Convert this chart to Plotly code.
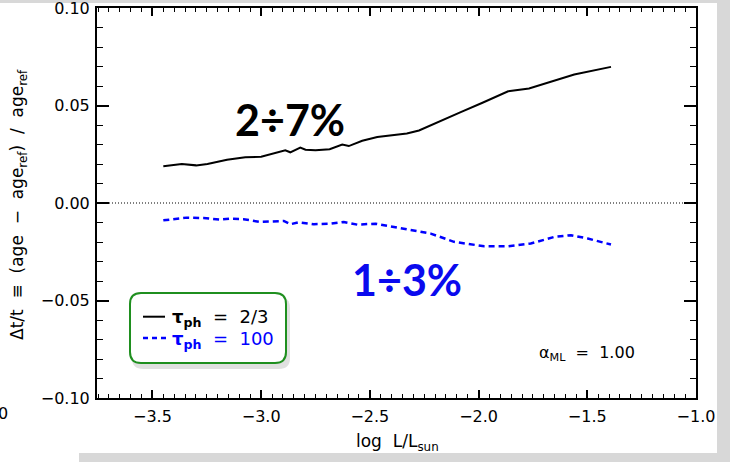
import plotly.graph_objects as go

# ---------------- data ----------------
x_solid = [-3.45, -3.365, -3.299, -3.247, -3.157, -3.073, -3.0, -2.95, -2.889, -2.866,
           -2.82, -2.796, -2.75, -2.685, -2.627, -2.597, -2.535, -2.466, -2.39, -2.33,
           -2.274, -2.174, -2.082, -1.982, -1.864, -1.768, -1.667, -1.56, -1.391]
y_solid = [0.0189, 0.0200, 0.0193, 0.0200, 0.0222, 0.0235, 0.0237, 0.0253, 0.0270, 0.0260,
           0.0284, 0.0273, 0.0270, 0.0276, 0.0300, 0.0292, 0.0319, 0.0338, 0.0350, 0.0357,
           0.0372, 0.0423, 0.0466, 0.0514, 0.0573, 0.0587, 0.0621, 0.0659, 0.0698]

x_dot = [-3.45, -3.342, -3.265, -3.188, -3.142, -3.081, -3.004, -2.896, -2.866, -2.827,
         -2.758, -2.681, -2.62, -2.558, -2.474, -2.39, -2.32, -2.22, -2.113, -1.974,
         -1.867, -1.76, -1.652, -1.575, -1.498, -1.391]
y_dot = [-0.0089, -0.0075, -0.0077, -0.0085, -0.0080, -0.0083, -0.0097, -0.0092, -0.0109, -0.0099,
         -0.0109, -0.0106, -0.0097, -0.0111, -0.0106, -0.0123, -0.0136, -0.0157, -0.0199, -0.0222,
         -0.0222, -0.0208, -0.0174, -0.0165, -0.0182, -0.0213]

series_names = ["τ<sub>ph</sub> = 2/3", "τ<sub>ph</sub> = 100"]
x_range = [-3.755, -1.0]
y_range = [-0.10, 0.10]
y_ticks = [-0.10, -0.05, 0.00, 0.05, 0.10]
y_ticklabels = ["−0.10", "−0.05", "0.00", "0.05", "0.10"]

# ---------------- layout geometry (pixels) ----------------
W, H = 730, 462
L, R, T, B = 97, 696, 8, 398
pw, ph = R - L, B - T


def px(x):
    return (x - L) / pw


def py(y):
    return (B - y) / ph


def rrect(x0, y0, x1, y1, r):
    # rounded rectangle path in paper coords from pixel box
    rx, ry = r / pw, r / ph
    X0, X1 = px(x0), px(x1)
    Y0, Y1 = py(y1), py(y0)  # bottom, top
    return (f"M {X0+rx},{Y0} L {X1-rx},{Y0} Q {X1},{Y0} {X1},{Y0+ry} "
            f"L {X1},{Y1-ry} Q {X1},{Y1} {X1-rx},{Y1} L {X0+rx},{Y1} "
            f"Q {X0},{Y1} {X0},{Y1-ry} L {X0},{Y0+ry} Q {X0},{Y0} {X0+rx},{Y0} Z")


fig = go.Figure()

fig.add_trace(go.Scatter(x=x_range, y=[0, 0], mode="lines",
                         line=dict(color="black", width=1.2, dash="1px,2px"),
                         showlegend=False, hoverinfo="skip"))
fig.add_trace(go.Scatter(x=x_solid, y=y_solid, mode="lines", name=series_names[0],
                         line=dict(color="black", width=2), showlegend=False))
fig.add_trace(go.Scatter(x=x_dot, y=y_dot, mode="lines", name=series_names[1],
                         line=dict(color="#0000ff", width=2.5, dash="6px,4px"),
                         showlegend=False))

tickfont = dict(family="DejaVu Sans", size=16, color="black")
fig.update_xaxes(range=x_range, tick0=-3.5, dtick=0.5, tickformat=".1f", automargin=False,
                 ticklabeloverflow="allow",
                 ticks="inside", ticklen=8, tickwidth=1.5, tickcolor="black",
                 minor=dict(dtick=0.05, ticks="inside", ticklen=4, tickwidth=1.2, tickcolor="black"),
                 showline=True, linecolor="black", linewidth=2, mirror="allticks",
                 showgrid=False, zeroline=False, tickfont=tickfont, ticklabelstandoff=3)
fig.update_yaxes(range=y_range, tickmode="array", tickvals=y_ticks, ticktext=y_ticklabels,
                 automargin=False, ticklabeloverflow="allow",
                 ticks="inside", ticklen=12, tickwidth=1.5, tickcolor="black",
                 minor=dict(tick0=0, dtick=0.01, ticks="inside", ticklen=6, tickwidth=1.2, tickcolor="black"),
                 showline=True, linecolor="black", linewidth=2, mirror="allticks",
                 showgrid=False, zeroline=False, tickfont=tickfont, ticklabelstandoff=2)

shapes = [
    # white sheet behind the chart
    dict(type="rect", xref="paper", yref="paper", x0=px(0), x1=px(717), y0=py(453), y1=py(3),
         fillcolor="white", line=dict(width=0), layer="below"),
    dict(type="rect", xref="paper", yref="paper", x0=px(0), x1=px(79), y0=py(462), y1=py(453),
         fillcolor="white", line=dict(width=0), layer="below"),
    # legend shadow + box
    dict(type="path", xref="paper", yref="paper", path=rrect(132, 297, 290, 369, 11),
         fillcolor="rgba(0,0,0,0.12)", line=dict(width=0)),
    dict(type="path", xref="paper", yref="paper", path=rrect(130, 293, 286, 363, 11),
         fillcolor="white", line=dict(color="#1f8f1f", width=2)),
    # legend samples
    dict(type="line", xref="paper", yref="paper", x0=px(143), x1=px(165), y0=py(316.7), y1=py(316.7),
         line=dict(color="black", width=2)),
    dict(type="line", xref="paper", yref="paper", x0=px(143), x1=px(166), y0=py(338), y1=py(338),
         line=dict(color="#0000ff", width=2.5, dash="5px,4px")),
]

ann = []
# y title
ann.append(dict(text="Δt/t\u00a0\u00a0≡\u00a0\u00a0(age\u00a0\u00a0−\u00a0\u00a0age<sub>ref</sub>)\u00a0\u00a0/\u00a0\u00a0age<sub>ref</sub>",
                xref="paper", yref="paper", x=px(18), y=py(205), textangle=-90,
                showarrow=False, xanchor="center", yanchor="middle",
                font=dict(family="DejaVu Sans", size=17, color="black")))
# x title
ann.append(dict(text="log\u00a0\u00a0L/L<sub>sun</sub>", xref="paper", yref="paper",
                x=px(397), y=py(442), showarrow=False, xanchor="center", yanchor="middle",
                font=dict(family="DejaVu Sans", size=17, color="black")))
# stray clipped tick label at the far left
ann.append(dict(text="0", xref="paper", yref="paper", x=px(-4), y=py(413), showarrow=False,
                xanchor="left", yanchor="middle", font=tickfont))
# big percentage labels
ann.append(dict(text="<b>2÷7%</b>", x=-2.866, y=0.0428, xref="x", yref="y", showarrow=False,
                font=dict(family="Lato", size=43, color="black")))
ann.append(dict(text="<b>1÷3%</b>", x=-2.331, y=-0.039, xref="x", yref="y", showarrow=False,
                font=dict(family="Lato", size=43, color="#0a0aee")))
# legend texts
ann.append(dict(text="<b>τ</b><sub><b>ph</b></sub>\u00a0\u00a0=\u00a0\u00a02/3", xref="paper", yref="paper",
                x=px(170), y=py(318), showarrow=False, xanchor="left", yanchor="middle",
                font=dict(family="DejaVu Sans", size=18, color="black")))
ann.append(dict(text="<b>τ</b><sub><b>ph</b></sub>\u00a0\u00a0=\u00a0\u00a0100", xref="paper", yref="paper",
                x=px(170), y=py(340), showarrow=False, xanchor="left", yanchor="middle",
                font=dict(family="DejaVu Sans", size=18, color="#0000ff")))
# alpha label
ann.append(dict(text="α<sub>ML</sub>\u00a0\u00a0=\u00a0\u00a01.00", xref="paper", yref="paper",
                x=px(537), y=py(353), showarrow=False, xanchor="left", yanchor="middle",
                font=dict(family="DejaVu Sans", size=16, color="black")))

fig.update_layout(width=W, height=H, margin=dict(l=L, r=W - R, t=T, b=H - B, pad=0),
                  paper_bgcolor="#d8d8d8", plot_bgcolor="white",
                  shapes=shapes, annotations=ann, showlegend=False)

fig.write_html("out.html")
